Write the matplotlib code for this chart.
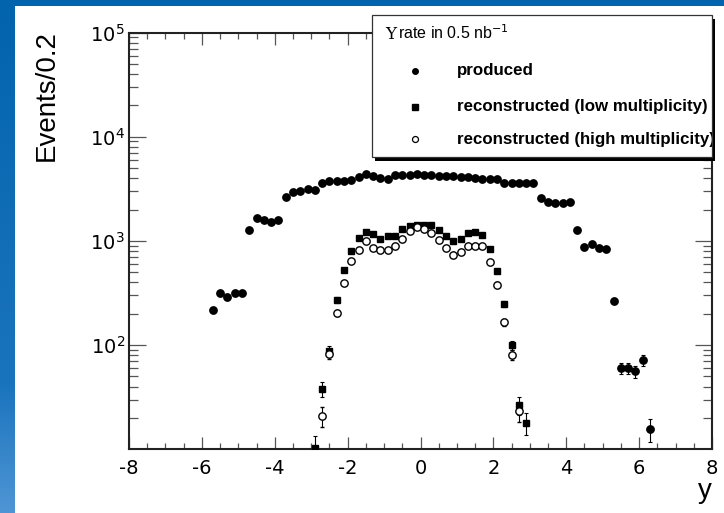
import numpy as np
import matplotlib
matplotlib.use("Agg")
import matplotlib.pyplot as plt
from matplotlib.patches import Rectangle
from matplotlib.ticker import FixedLocator, FixedFormatter, MultipleLocator
from matplotlib.colors import LinearSegmentedColormap

plt.rcParams['axes.unicode_minus'] = False

# ---------------- data ----------------
y_produced = [-5.7, -5.5, -5.3, -5.1, -4.9, -4.7, -4.5, -4.3, -4.1, -3.9,
              -3.7, -3.5, -3.3, -3.1, -2.9, -2.7, -2.5, -2.3, -2.1, -1.9,
              -1.7, -1.5, -1.3, -1.1, -0.9, -0.7, -0.5, -0.3, -0.1, 0.1,
              0.3, 0.5, 0.7, 0.9, 1.1, 1.3, 1.5, 1.7, 1.9, 2.1,
              2.3, 2.5, 2.7, 2.9, 3.1, 3.3, 3.5, 3.7, 3.9, 4.1,
              4.3, 4.5, 4.7, 4.9, 5.1, 5.3, 5.5, 5.7, 5.9, 6.1, 6.3]
n_produced = [218, 313, 289, 313, 313, 1276, 1664, 1603, 1524, 1592,
              2625, 2930, 3000, 3133, 3046, 3556, 3742, 3770, 3770, 3800,
              4065, 4340, 4150, 4035, 3945, 4310, 4300, 4280, 4350, 4280,
              4250, 4230, 4240, 4180, 4100, 4060, 4035, 3970, 3885, 3885,
              3630, 3610, 3580, 3580, 3580, 2590, 2371, 2318, 2318, 2350,
              1265, 867, 936, 863, 830, 267, 60, 60, 56, 72, 15.6]

y_low = [-2.9, -2.7, -2.5, -2.3, -2.1, -1.9, -1.7, -1.5, -1.3, -1.1,
         -0.9, -0.7, -0.5, -0.3, -0.1, 0.1, 0.3, 0.5, 0.7, 0.9,
         1.1, 1.3, 1.5, 1.7, 1.9, 2.1, 2.3, 2.5, 2.7, 2.9]
n_low = [10.2, 37.8, 88, 271, 526, 801, 1069, 1210, 1167, 1052,
         1117, 1117, 1313, 1381, 1425, 1436, 1412, 1284, 1117, 1006,
         1045, 1194, 1221, 1132, 843, 519, 248, 100, 26.7, 17.9]

y_high = [-2.7, -2.5, -2.3, -2.1, -1.9, -1.7, -1.5, -1.3, -1.1, -0.9,
          -0.7, -0.5, -0.3, -0.1, 0.1, 0.3, 0.5, 0.7, 0.9, 1.1,
          1.3, 1.5, 1.7, 1.9, 2.1, 2.3, 2.5, 2.7]
n_high = [20.8, 82, 205, 394, 647, 825, 991, 857, 825, 825,
          895, 1052, 1256, 1351, 1310, 1183, 1022, 849, 733, 776,
          895, 895, 895, 622, 380, 166, 81, 23.3]

x_ticks = [-8, -6, -4, -2, 0, 2, 4, 6, 8]
y_ticks = [1e2, 1e3, 1e4, 1e5]
y_ticklabels = ['$10^{2}$', '$10^{3}$', '$10^{4}$', '$10^{5}$']

legend_title = 'rate in 0.5 nb$^{-1}$'
legend_labels = ['produced', 'reconstructed (low multiplicity)',
                 'reconstructed (high multiplicity)']

# ---------------- figure ----------------
W, H = 724, 513
fig = plt.figure(figsize=(W / 100, H / 100), dpi=100)
fig.patch.set_facecolor('#0264ad')

# left strip gradient
bg = fig.add_axes([0, 0, 15 / W, 1], zorder=-10)
cmap = LinearSegmentedColormap.from_list('bg', [(0, '#4f95d5'), (0.25, '#1a74bd'), (1, '#0264ad')])
bg.imshow(np.linspace(1, 0, 256)[:, None], aspect='auto', cmap=cmap, extent=[0, 1, 0, 1])
bg.set_axis_off()

# white panel
fig.add_artist(Rectangle((15 / W, 0), 1 - 15 / W, 1 - 6 / H, transform=fig.transFigure,
                         facecolor='white', edgecolor='none', zorder=-5))

ax = fig.add_axes([129 / W, (H - 449.3) / H, (712 - 129) / W, (449.3 - 32.5) / H])
ax.set_facecolor('none')
ax.set_yscale('log')
ax.set_xlim(-8, 8)
ax.set_ylim(10, 1e5)

ms_c = 5.3
ek = dict(ecolor='black', elinewidth=0.8, capsize=1.5, capthick=0.8, linestyle='none')
ax.errorbar(y_produced, n_produced, yerr=np.sqrt(n_produced), fmt='o', ms=ms_c,
            mfc='black', mec='black', zorder=3, **ek)
ax.errorbar(y_low, n_low, yerr=np.sqrt(n_low), fmt='s', ms=5.0,
            mfc='black', mec='black', zorder=4, **ek)
ax.errorbar(y_high, n_high, yerr=np.sqrt(n_high), fmt='o', ms=5.3,
            mfc='white', mec='black', mew=1.0, zorder=5, **ek)

# ticks
ax.xaxis.set_major_locator(FixedLocator(x_ticks))
ax.xaxis.set_minor_locator(MultipleLocator(0.5))
ax.yaxis.set_major_locator(FixedLocator(y_ticks))
ax.yaxis.set_major_formatter(FixedFormatter(y_ticklabels))
minor_y = [m * 10 ** e for e in range(1, 5) for m in range(2, 10)]
ax.yaxis.set_minor_locator(FixedLocator(minor_y))
ax.tick_params(axis='both', which='both', direction='in', top=True, right=True,
               color='#555555', width=0.9, labelsize=14, labelcolor='black')
ax.tick_params(axis='x', which='major', length=8.5, pad=7)
ax.tick_params(axis='x', which='minor', length=4.3)
ax.tick_params(axis='y', which='major', length=12.5, pad=3)
ax.tick_params(axis='y', which='minor', length=6.5)
for s in ax.spines.values():
    s.set_linewidth(1.5)
    s.set_color('#222222')

# axis titles
fig.text(46.5 / W, 1 - 30 / H, 'Events/0.2', rotation=90, ha='center', va='top',
         fontsize=20, family='Liberation Sans')
fig.text(712 / W, (H - 497.5) / H, 'y', ha='right', va='baseline',
         fontsize=20, family='Liberation Sans')

# legend box (ROOT-style with shadow)
bx0, by0, bx1, by1 = 371.7, 15, 711.7, 157
shadow = Rectangle(((bx0 + 3) / W, (H - by1 - 3.5) / H), (bx1 - bx0) / W, (by1 - by0) / H,
                   transform=fig.transFigure, facecolor='black', edgecolor='none', zorder=6)
box = Rectangle((bx0 / W, (H - by1) / H), (bx1 - bx0) / W, (by1 - by0) / H,
                transform=fig.transFigure, facecolor='white', edgecolor='#333333',
                linewidth=0.9, zorder=7)
fig.add_artist(shadow)
fig.add_artist(box)

fig.text(385 / W, (H - 39) / H, '\u03a5', ha='left', va='baseline', fontsize=12,
         family='DejaVu Serif', zorder=8)
fig.text(398 / W, (H - 39) / H, legend_title, ha='left', va='baseline', fontsize=11.5,
         family='Liberation Sans', zorder=8)

rows_y = [70.7, 106.7, 139.3]
mk = [dict(marker='o', ms=4.0, mfc='black', mec='black'),
      dict(marker='s', ms=4.0, mfc='black', mec='black'),
      dict(marker='o', ms=4.3, mfc='white', mec='black', mew=0.9)]
for ry, lab, m in zip(rows_y, legend_labels, mk):
    ln = matplotlib.lines.Line2D([415 / W], [(H - ry) / H], transform=fig.transFigure,
                                 linestyle='none', zorder=8, **m)
    fig.add_artist(ln)
    tx = fig.text(456.7 / W, (H - ry) / H, lab, ha='left', va='center', fontsize=12.2,
                  family='Liberation Sans', fontweight='bold', zorder=8)
    tx.set_clip_path(box)

fig.savefig('out.png', dpi=100, facecolor=fig.get_facecolor())
